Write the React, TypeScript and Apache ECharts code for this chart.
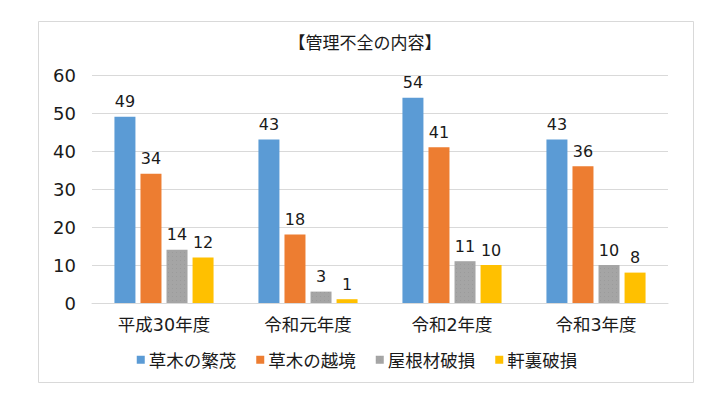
import React, { useEffect, useRef } from "react";
import * as echarts from "echarts";

const categories = ["平成30年度", "令和元年度", "令和2年度", "令和3年度"];
const seriesNames = ["草木の繁茂", "草木の越境", "屋根材破損", "軒裏破損"];
const hanmo = [49, 43, 54, 43];
const ekkyo = [34, 18, 41, 36];
const yane = [14, 3, 11, 10];
const nokiura = [12, 1, 10, 8];
const colors = ["#5b9bd5", "#ed7d31", "#a5a5a5", "#ffc000"];

const FONT = "'DejaVu Sans', 'Noto Sans CJK JP', sans-serif";
const CJK = "'Noto Sans CJK JP', sans-serif";

export default function App() {
  const ref = useRef<HTMLDivElement>(null);
  useEffect(() => {
    const chart = echarts.init(ref.current!, null, { renderer: "svg" });
    const data = [hanmo, ekkyo, yane, nokiura];
    chart.setOption({
      animation: false,
      textStyle: { fontFamily: FONT },
      graphic: [
        {
          type: "rect",
          shape: { x: 38.5, y: 21.5, width: 655, height: 361 },
          style: { fill: "#fff", stroke: "#d9d9d9", lineWidth: 1 },
          z: -10,
        },
      ],
      title: {
        text: "【管理不全の内容】",
        left: 360,
        textAlign: "center",
        top: 28,
        textStyle: { fontSize: 17, fontWeight: "normal", color: "#1a1a1a", fontFamily: CJK },
      },
      legend: {
        data: seriesNames,
        top: 346,
        left: "center",
        itemWidth: 8,
        itemHeight: 8,
        itemGap: 20,
        icon: "rect",
        textStyle: { fontSize: 17.5, color: "#1a1a1a", fontFamily: CJK, padding: [0, 0, 0, -1] },
      },
      grid: { left: 92, right: 46, top: 75, bottom: 100 },
      xAxis: {
        type: "category",
        data: categories,
        axisLine: { lineStyle: { color: "#d9d9d9" } },
        axisTick: { show: false },
        axisLabel: { fontSize: 17.5, color: "#1a1a1a", margin: 13, fontFamily: FONT },
      },
      yAxis: {
        type: "value",
        min: 0,
        max: 60,
        interval: 10,
        axisLine: { show: false },
        axisTick: { show: false },
        splitLine: { lineStyle: { color: "#d9d9d9" } },
        axisLabel: { fontSize: 18, color: "#1a1a1a", margin: 16, fontFamily: FONT },
      },
      series: seriesNames.map((name, i) => ({
        name,
        type: "bar",
        data: data[i],
        barWidth: 21,
        barGap: "24%",
        itemStyle:
          i === 2
            ? {
                color: colors[i],
                decal: {
                  symbol: "rect",
                  symbolSize: 1,
                  color: "rgba(110,110,110,0.18)",
                  dashArrayX: [1, 3],
                  dashArrayY: [1, 3],
                },
              }
            : { color: colors[i] },
        label: {
          show: true,
          position: "top",
          distance: 7,
          fontSize: 16,
          color: "#1a1a1a",
          fontFamily: FONT,
        },
      })),
    });
    return () => chart.dispose();
  }, []);
  return (
    <div
      ref={ref}
      style={{ position: "fixed", left: 0, top: 0, width: 714, height: 403, background: "#fff" }}
    />
  );
}
